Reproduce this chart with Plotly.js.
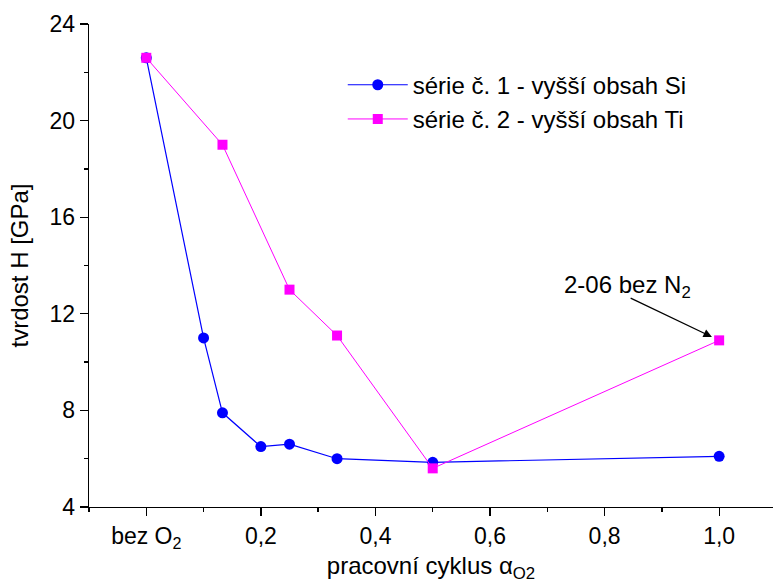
<!DOCTYPE html>
<html>
<head>
<meta charset="utf-8">
<script src="https://cdn.plot.ly/plotly-3.0.1.min.js"></script>
<style>html,body{margin:0;padding:0;background:#fff;}#chart{width:773px;height:583px;}</style>
</head>
<body>
<div id="chart"></div>
<script>
const seriesNames = ["série č. 1 - vyšší obsah Si", "série č. 2 - vyšší obsah Ti"];
const x1 = [0, 0.1, 0.133, 0.2, 0.25, 0.333, 0.5, 1.0];
const y1 = [22.6, 11.0, 7.9, 6.5, 6.6, 6.0, 5.85, 6.1];
const x2 = [0, 0.133, 0.25, 0.333, 0.5, 1.0];
const y2 = [22.6, 19.0, 13.0, 11.1, 5.6, 10.9];
const xTickVals = [0, 0.2, 0.4, 0.6, 0.8, 1.0];
const xTickText = ["bez O<sub>2</sub>", "0,2", "0,4", "0,6", "0,8", "1,0"];
const yTickVals = [4, 8, 12, 16, 20, 24];
const yTickText = ["4", "8", "12", "16", "20", "24"];
const annText = "2-06 bez N<sub>2</sub>";

const FONT = "Liberation Sans, Arial, sans-serif";

const traces = [
  {x: x1, y: y1, name: seriesNames[0], type: "scatter", mode: "lines+markers",
   line: {color: "#0000FF", width: 1.2},
   marker: {color: "#0000FF", symbol: "circle", size: 11}},
  {x: x2, y: y2, name: seriesNames[1], type: "scatter", mode: "lines+markers",
   line: {color: "#FF00FF", width: 1},
   marker: {color: "#FF00FF", symbol: "square", size: 10}}
];

const layout = {
  width: 773, height: 583,
  margin: {l: 89, r: 0, t: 24, b: 76, pad: 0},
  paper_bgcolor: "#fff", plot_bgcolor: "#fff",
  font: {family: FONT, size: 23, color: "#000"},
  showlegend: true,
  legend: {x: 0.371, y: 0.92, xanchor: "left", yanchor: "top",
           bgcolor: "rgba(0,0,0,0)", borderwidth: 0,
           font: {family: FONT, size: 24, color: "#000"}, itemwidth: 60,
           tracegroupgap: 0},
  xaxis: {range: [-0.1, 1.094], tickmode: "array", tickvals: xTickVals, ticktext: xTickText,
          showgrid: false, zeroline: false, showline: true, linecolor: "#000", linewidth: 1.3,
          ticks: "outside", ticklen: 8, tickwidth: 1.3, tickcolor: "#000",
          tickfont: {family: FONT, size: 23, color: "#000"},
          minor: {tickmode: "linear", tick0: 0, dtick: 0.1, ticks: "outside", ticklen: 4, tickwidth: 1.3, tickcolor: "#000", showgrid: false},
          title: {text: "pracovní cyklus α<sub>O2</sub>", font: {family: FONT, size: 24, color: "#000"}, standoff: 9}},
  yaxis: {range: [4, 24], tickmode: "array", tickvals: yTickVals, ticktext: yTickText,
          showgrid: false, zeroline: false, showline: true, linecolor: "#000", linewidth: 1.3,
          ticks: "outside", ticklen: 8, tickwidth: 1.3, tickcolor: "#000",
          tickfont: {family: FONT, size: 23, color: "#000"},
          minor: {tickmode: "linear", tick0: 4, dtick: 2, ticks: "outside", ticklen: 4, tickwidth: 1.3, tickcolor: "#000", showgrid: false},
          title: {text: "tvrdost H [GPa]", font: {family: FONT, size: 24, color: "#000"}, standoff: 14}},
  annotations: [
    {x: x2[x2.length - 1], y: y2[y2.length - 1], xref: "x", yref: "y",
     text: "", showarrow: true, ax: -90, ay: -43, axref: "pixel", ayref: "pixel",
     arrowhead: 2, arrowsize: 1.3, arrowwidth: 1.3, arrowcolor: "#000", standoff: 8},
    {x: x2[x2.length - 1], y: y2[y2.length - 1], xref: "x", yref: "y",
     text: annText, showarrow: false, xshift: -92, yshift: 54,
     font: {family: FONT, size: 24, color: "#000"}}
  ]
};

Plotly.newPlot("chart", traces, layout, {displayModeBar: false, staticPlot: true});
</script>
</body>
</html>
